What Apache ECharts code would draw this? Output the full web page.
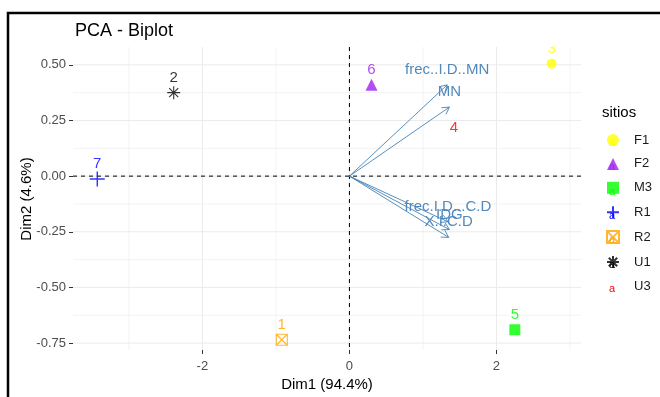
<!DOCTYPE html>
<html><head><meta charset="utf-8">
<script src="https://cdn.jsdelivr.net/npm/echarts@6/dist/echarts.min.js"></script>
<style>html,body{margin:0;padding:0;background:#fff}#c{width:660px;height:397px}</style>
</head><body><div id="c"></div>
<script>
// ---- data ----
const groups = ['F1','F2','M3','R1','R2','U1','U3'];
const groupColors = ['#FFFF00','#A020F0','#00FF00','#0000FF','#FFA500','#000000','#FF0000'];
const pointLabels = ['1','2','3','4','5','6','7'];
const pointGroups = ['R2','U1','F1','U3','M3','F2','R1'];
const dim1 = [-0.92,-2.39,2.75,1.42,2.25,0.30,-3.43];
const dim2 = [-0.735,0.375,0.505,0.15,-0.69,0.41,-0.013];
const varNames = ['frec..I.D..MN','MN','frec.I.D...C.D','IDG','X.I.C.D'];
const varDim1 = [1.33,1.36,1.34,1.36,1.35];
const varDim2 = [0.41,0.31,-0.205,-0.24,-0.275];
const xTicks = [-2,0,2];
const xMinor = [-3,-1,1,3];
const yTicks = [-0.75,-0.5,-0.25,0,0.25,0.5];
const yMinor = [-0.625,-0.375,-0.125,0.125,0.375];

// ---- styles ----
const FONT = 'Liberation Sans, Arial, sans-serif';
const symbols = {
  F1: {symbol:'circle', size:10, fill:true},
  F2: {symbol:'triangle', size:12, fill:true},
  M3: {symbol:'rect', size:11, fill:true},
  R1: {symbol:'path://M0 5L10 5M5 0L5 10', size:15, fill:false, bw:1.4},
  R2: {symbol:'path://M0 0L10 0L10 10L0 10ZM0 0L10 10M10 0L0 10', size:11, fill:false, bw:1.1},
  U1: {symbol:'path://M5 0L5 10M0 5L10 5M1.5 1.5L8.5 8.5M8.5 1.5L1.5 8.5', size:13, fill:false, bw:1.1},
  U3: {symbol:'circle', size:2, fill:true, hidden:true}
};

const chart = echarts.init(document.getElementById('c'), null, {renderer:'canvas'});

function gridSeries(values, vertical, width, color){
  return {
    type:'custom', silent:true, z:1,
    data: values.map(v => vertical ? [v, 0] : [0, v]),
    renderItem(params, api){
      const cs = params.coordSys;
      const p = api.coord([api.value(0), api.value(1)]);
      const shape = vertical ? {x1:p[0], y1:cs.y, x2:p[0], y2:cs.y+cs.height}
                             : {x1:cs.x, y1:p[1], x2:cs.x+cs.width, y2:p[1]};
      return {type:'line', shape, style:{stroke:color, lineWidth:width}};
    }
  };
}
function zeroLine(vertical){
  return {
    type:'custom', silent:true, z:2,
    data:[[0,0]],
    renderItem(params, api){
      const cs = params.coordSys;
      const p = api.coord([0,0]);
      const shape = vertical ? {x1:p[0], y1:cs.y, x2:p[0], y2:cs.y+cs.height}
                             : {x1:cs.x, y1:p[1], x2:cs.x+cs.width, y2:p[1]};
      return {type:'line', shape, style:{stroke:'#000', lineWidth:1, lineDash:[4,4]}};
    }
  };
}

const pointSeries = groups.map((g, gi) => {
  const s = symbols[g];
  const col = groupColors[gi];
  const data = [];
  pointGroups.forEach((pg, i) => { if (pg === g) data.push({name: pointLabels[i], value:[dim1[i], dim2[i]]}); });
  return {
    type:'scatter', name:g, z:5,
    symbol:s.symbol, symbolSize:s.size,
    itemStyle: s.fill ? {color: s.hidden ? 'rgba(0,0,0,0)' : col, borderWidth:0}
                      : {color:'rgba(0,0,0,0)', borderColor:col, borderWidth:s.bw},
    label:{show:true, formatter:'{b}', position:'inside', offset:[0,-15], color:col, fontSize:15, fontFamily:FONT},
    emphasis:{disabled:true},
    data
  };
});

const arrowSeries = {
  type:'custom', name:'vars', z:6, silent:true,
  data: varNames.map((n,i) => [varDim1[i], varDim2[i]]),
  renderItem(params, api){
    const o = api.coord([0,0]);
    const p = api.coord([api.value(0), api.value(1)]);
    const ang = Math.atan2(p[1]-o[1], p[0]-o[0]);
    const L = 8, a = Math.PI/6;
    const h1 = [p[0]-L*Math.cos(ang-a), p[1]-L*Math.sin(ang-a)];
    const h2 = [p[0]-L*Math.cos(ang+a), p[1]-L*Math.sin(ang+a)];
    return {type:'group', children:[
      {type:'line', shape:{x1:o[0], y1:o[1], x2:p[0], y2:p[1]}, style:{stroke:'#4682B4', lineWidth:0.9}},
      {type:'polyline', shape:{points:[h1, p, h2]}, style:{stroke:'#4682B4', lineWidth:0.9, fill:'none'}},
      {type:'text', x:p[0], y:p[1]-15, style:{text:varNames[params.dataIndex], fill:'#5189BE', font:'15px ' + FONT, align:'center', verticalAlign:'middle'}}
    ]};
  }
};

const legendTop = 133.5, legendItemH = 12, legendGap = 10.9, legendStep = 24.3;
const legendA = groups.map((g, i) => ({
  type:'text', z:100, silent:true,
  x:612, y: 140 + i*legendStep + 3,
  style:{text:'a', fill:groupColors[i], font:'11px ' + FONT, align:'center', verticalAlign:'middle'}
}));

const option = {
  animation:false,
  backgroundColor:'#fff',
  grid:{left:73, right:79, top:47, bottom:47, containLabel:false, outerBoundsMode:'none'},
  xAxis:{
    type:'value', min:-3.76, max:3.15, position:'bottom',
    axisLine:{show:false, onZero:false},
    axisTick:{show:true, customValues:xTicks, length:4, lineStyle:{color:'#333', width:1}},
    axisLabel:{customValues:xTicks, formatter:v => String(v), fontSize:13, color:'#4D4D4D', margin:10, fontFamily:FONT},
    splitLine:{show:false}
  },
  yAxis:{
    type:'value', min:-0.781, max:0.58, position:'left',
    axisLine:{show:false, onZero:false},
    axisTick:{show:true, customValues:yTicks, length:4, lineStyle:{color:'#333', width:1}},
    axisLabel:{customValues:yTicks, formatter:v => v.toFixed(2), fontSize:13, color:'#4D4D4D', margin:7, fontFamily:FONT},
    splitLine:{show:false}
  },
  legend:{
    orient:'vertical', left:606, top:legendTop, padding:0,
    itemWidth:12, itemHeight:legendItemH, itemGap:legendGap,
    textStyle:{fontSize:13, color:'#1A1A1A', fontFamily:FONT, padding:[0,0,0,10]},
    selectedMode:false,
    data: groups.map(g => g === 'U3' ? {name:g, icon:'none'} : {name:g})
  },
  graphic:[
    {type:'rect', z:-10, silent:true, shape:{x:8, y:13, width:800, height:600}, style:{fill:'none', stroke:'#000', lineWidth:2.5}},
    {type:'rect', z:90, silent:true, shape:{x:480, y:16, width:110, height:30}, style:{fill:'#fff'}},
    {type:'text', silent:true, x:75, y:31, style:{text:'PCA - Biplot', fill:'#000', font:'18px ' + FONT, verticalAlign:'middle'}},
    {type:'text', silent:true, x:327, y:385, style:{text:'Dim1 (94.4%)', fill:'#000', font:'15px ' + FONT, align:'center', verticalAlign:'middle'}},
    {type:'text', silent:true, x:27, y:199, rotation:Math.PI/2, style:{text:'Dim2 (4.6%)', fill:'#000', font:'15px ' + FONT, align:'center', verticalAlign:'middle'}},
    {type:'text', silent:true, x:602, y:113, style:{text:'sitios', fill:'#000', font:'15px ' + FONT, verticalAlign:'middle'}}
  ].concat(legendA),
  series:[
    gridSeries(xMinor, true, 0.6, '#EBEBEB'),
    gridSeries(yMinor, false, 0.6, '#EBEBEB'),
    gridSeries(xTicks, true, 1, '#EBEBEB'),
    gridSeries(yTicks, false, 1, '#EBEBEB'),
    zeroLine(true), zeroLine(false)
  ].concat(pointSeries).concat([arrowSeries])
};
chart.setOption(option);
</script></body></html>
